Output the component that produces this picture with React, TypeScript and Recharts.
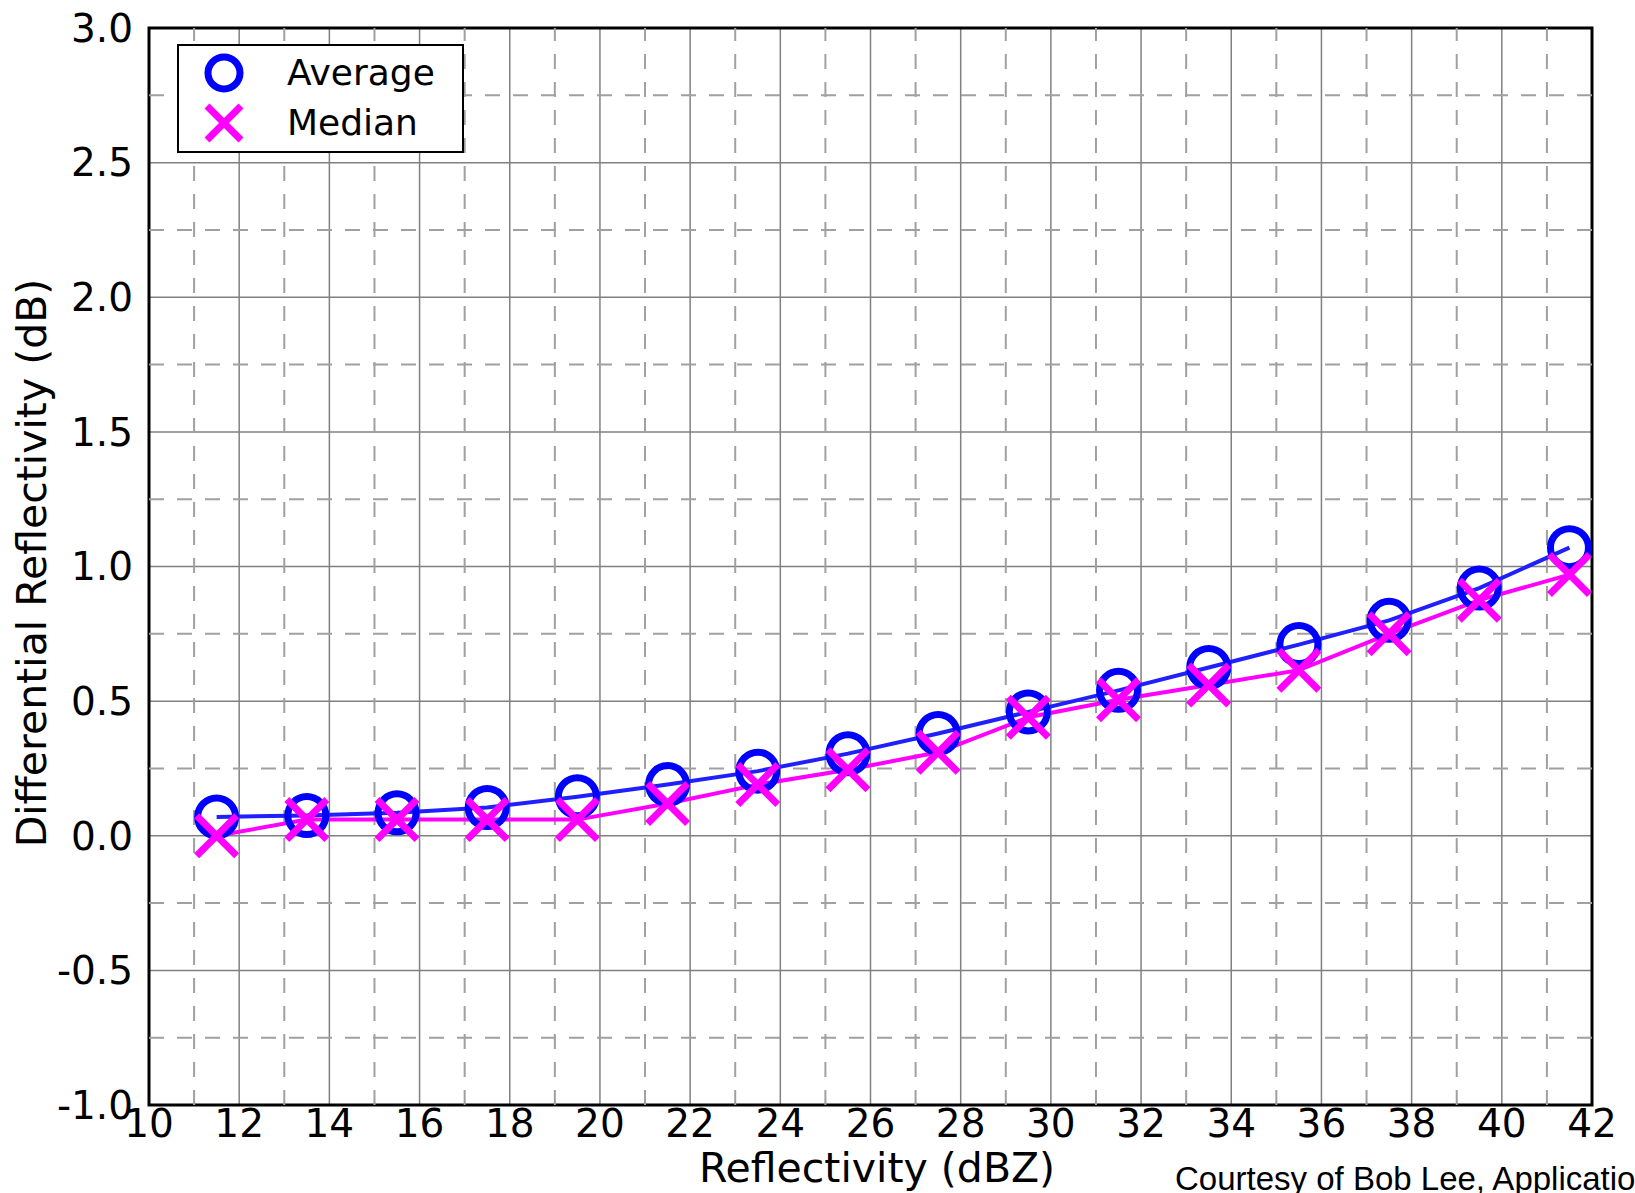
import React from 'react';
import { LineChart, Line, XAxis, YAxis, CartesianGrid, ReferenceLine, ReferenceArea, Legend } from 'recharts';

// bin centres (dBZ) and ZDR values
const reflectivity = [11.5, 13.5, 15.5, 17.5, 19.5, 21.5, 23.5, 25.5, 27.5, 29.5, 31.5, 33.5, 35.5, 37.5, 39.5, 41.5];
const averageZdr = [0.07, 0.075, 0.085, 0.105, 0.145, 0.19, 0.24, 0.305, 0.38, 0.46, 0.54, 0.625, 0.71, 0.8, 0.92, 1.07];
const medianZdr = [0.0, 0.06, 0.06, 0.06, 0.06, 0.12, 0.19, 0.245, 0.31, 0.44, 0.505, 0.56, 0.615, 0.75, 0.875, 0.97];

const xTicks = [10, 12, 14, 16, 18, 20, 22, 24, 26, 28, 30, 32, 34, 36, 38, 40, 42];
const yTicks = [-1, -0.5, 0, 0.5, 1, 1.5, 2, 2.5, 3];
const xMinor = [11, 13, 15, 17, 19, 21, 23, 25, 27, 29, 31, 33, 35, 37, 39, 41];
const yMinor = [-0.75, -0.25, 0.25, 0.75, 1.25, 1.75, 2.25, 2.75];

const data = reflectivity.map((x, i) => ({ x, avg: averageZdr[i], med: medianZdr[i] }));

const FONT = '"DejaVu Sans", sans-serif';
const BLUE = '#0000ff';
const MAGENTA = '#ff00ff';

const CircleDot = (props: any) => {
  const { cx, cy, index } = props;
  if (cx == null || cy == null) return <g key={`c-${index}`} />;
  return <circle key={`c-${index}`} cx={cx} cy={cy} r={19} fill="none" stroke={BLUE} strokeWidth={7} />;
};

const crossPath = (cx: number, cy: number, s: number) =>
  `M${cx - s},${cy - s}L${cx + s},${cy + s}M${cx - s},${cy + s}L${cx + s},${cy - s}`;

const CrossDot = (props: any) => {
  const { cx, cy, index } = props;
  if (cx == null || cy == null) return <g key={`x-${index}`} />;
  return <path key={`x-${index}`} d={crossPath(cx, cy, 20)} fill="none" stroke={MAGENTA} strokeWidth={7} />;
};

const LegendBox = () => (
  <div
    style={{
      position: 'relative',
      width: 287,
      height: 109,
      boxSizing: 'border-box',
      border: '2px solid #000',
      background: '#fff',
      fontFamily: FONT,
      fontSize: 36,
      color: '#000',
    }}
  >
    <svg width={60} height={109} style={{ position: 'absolute', left: 14, top: -2 }}>
      <circle cx={31} cy={29} r={16} fill="none" stroke={BLUE} strokeWidth={7} />
      <path d={crossPath(31, 79, 17)} fill="none" stroke={MAGENTA} strokeWidth={7} />
    </svg>
    <div style={{ position: 'absolute', left: 108, top: 5, lineHeight: '44px' }}>Average</div>
    <div style={{ position: 'absolute', left: 108, top: 55, lineHeight: '44px' }}>Median</div>
  </div>
);

export default function App() {
  return (
    <div style={{ position: 'absolute', left: 0, top: 0, width: 1635, height: 1193, background: '#fff' }}>
      <LineChart width={1635} height={1193} data={data} margin={{ top: 28, right: 43, bottom: 0, left: 0 }}>
        <CartesianGrid stroke="#808080" strokeWidth={1.5} />
        {xMinor.map((v) => (
          <ReferenceLine key={`xm${v}`} x={v} stroke="#a0a0a0" strokeWidth={2} strokeDasharray="15 13" />
        ))}
        {yMinor.map((v) => (
          <ReferenceLine key={`ym${v}`} y={v} stroke="#a0a0a0" strokeWidth={2} strokeDasharray="15 13" />
        ))}
        <XAxis
          dataKey="x"
          type="number"
          domain={[10, 42]}
          ticks={xTicks}
          interval={0}
          allowDataOverflow
          axisLine={false}
          tickLine={false}
          tickSize={0}
          tickMargin={4}
          height={88}
          tick={{ fontSize: 39, fill: '#000', fontFamily: FONT }}
          label={{
            content: () => (
              <text x={877} y={1182} textAnchor="middle" fontSize={41} fontFamily={FONT} fill="#000">
                Reflectivity (dBZ)
              </text>
            ),
          }}
        />
        <YAxis
          type="number"
          domain={[-1, 3]}
          ticks={yTicks}
          interval={0}
          allowDataOverflow
          axisLine={false}
          tickLine={false}
          tickSize={0}
          tickMargin={16}
          width={149}
          tickFormatter={(v: number) => v.toFixed(1)}
          tick={{ fontSize: 39, fill: '#000', fontFamily: FONT }}
          label={{
            content: () => (
              <text
                transform="translate(46,563) rotate(-90)"
                textAnchor="middle"
                fontSize={41}
                fontFamily={FONT}
                fill="#000"
              >
                Differential Reflectivity (dB)
              </text>
            ),
          }}
        />
        <Line
          dataKey="avg"
          type="linear"
          stroke="#2020ff"
          strokeWidth={4}
          dot={CircleDot}
          activeDot={false}
          isAnimationActive={false}
        />
        <Line
          dataKey="med"
          type="linear"
          stroke={MAGENTA}
          strokeWidth={4}
          dot={CrossDot}
          activeDot={false}
          isAnimationActive={false}
        />
        <ReferenceArea x1={10} x2={42} y1={-1} y2={3} fill="none" stroke="#000" strokeWidth={3} />
        <Legend
          layout="vertical"
          align="center"
          verticalAlign="middle"
          wrapperStyle={{ left: 177, top: 44, width: 287 }}
          content={() => <LegendBox />}
        />
      </LineChart>
      <svg width={1635} height={1193} style={{ position: 'absolute', left: 0, top: 0, pointerEvents: 'none' }}>
        <text x={1175} y={1190} fontSize={33} fontFamily='"Liberation Sans", Arial, sans-serif' fill="#000">
          Courtesy of Bob Lee, Applications
        </text>
      </svg>
    </div>
  );
}
